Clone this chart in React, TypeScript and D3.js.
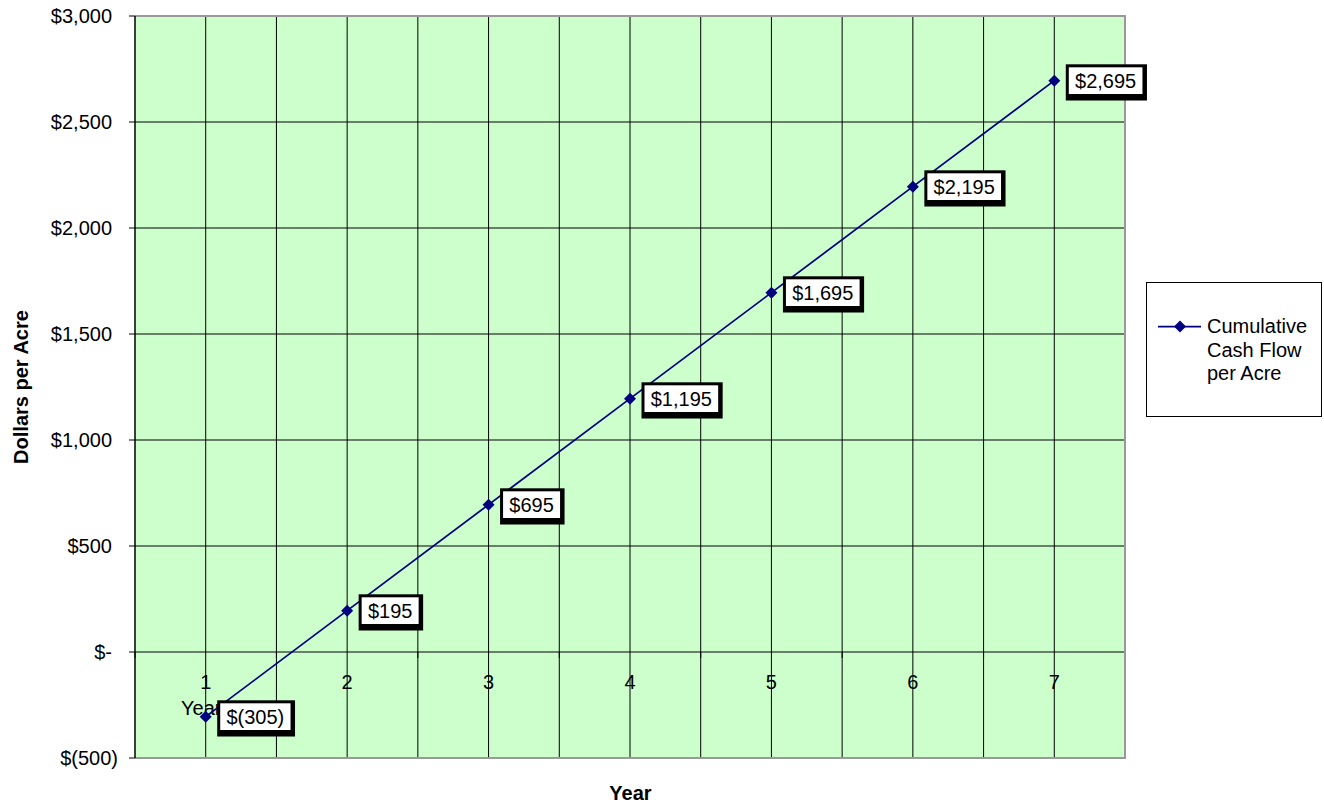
import React from "react";
import * as d3 from "d3";

const years: string[] = ["1", "2", "3", "4", "5", "6", "7"];
const cumulativeCash: number[] = [-305, 195, 695, 1195, 1695, 2195, 2695];
const yTickValues: number[] = [-500, 0, 500, 1000, 1500, 2000, 2500, 3000];
const seriesName: string[] = ["Cumulative", "Cash Flow", "per Acre"];

const W = 1324;
const H = 803;
const M = { left: 135, right: 1125, top: 16, bottom: 758 };
const FONT = "'Liberation Sans', Arial, Helvetica, sans-serif";
const NAVY = "#000080";

function fmt(v: number): string {
  if (v === 0) return "$-";
  if (v < 0) return `$(${d3.format(",")(Math.abs(v))})`;
  return `$${d3.format(",")(v)}`;
}

let ctx: CanvasRenderingContext2D | null = null;
function textW(s: string): number {
  if (!ctx) {
    const c = document.createElement("canvas");
    ctx = c.getContext("2d");
  }
  if (!ctx) return s.length * 11;
  ctx.font = `20px ${FONT}`;
  return ctx.measureText(s).width;
}

function diamond(cx: number, cy: number, r: number): string {
  return `M${cx},${cy - r}L${cx + r},${cy}L${cx},${cy + r}L${cx - r},${cy}Z`;
}

export default function App() {
  const x = d3.scaleBand<string>().domain(years).range([M.left, M.right]).padding(0);
  const y = d3.scaleLinear().domain([-500, 3000]).range([M.bottom, M.top]);
  const bw = x.bandwidth();
  const cx = (d: string) => (x(d) as number) + bw / 2;

  const line = d3
    .line<number>()
    .x((_, i) => cx(years[i]))
    .y((d) => y(d));

  const boundaries = years.slice(1).map((d) => x(d) as number);

  return (
    <svg
      width={W}
      height={H}
      style={{ position: "absolute", left: 0, top: 0, fontFamily: FONT }}
    >
      <rect x={0} y={0} width={W} height={H} fill="#ffffff" />
      <rect
        x={M.left}
        y={M.top}
        width={M.right - M.left}
        height={M.bottom - M.top}
        fill="#CCFFCC"
      />
      {yTickValues.map((v) => (
        <line key={"h" + v} x1={M.left} x2={M.right} y1={y(v)} y2={y(v)} stroke="#000" strokeWidth={1} />
      ))}
      {years.map((d) => (
        <line key={"vc" + d} x1={cx(d)} x2={cx(d)} y1={M.top} y2={M.bottom} stroke="#000" strokeWidth={1} />
      ))}
      {boundaries.map((b, i) => (
        <line key={"vb" + i} x1={b} x2={b} y1={M.top} y2={M.bottom} stroke="#000" strokeWidth={1} />
      ))}
      {[M.left, ...boundaries, M.right].map((b, i) => (
        <line key={"xt" + i} x1={b} x2={b} y1={y(0)} y2={y(0) + 6} stroke="#000" strokeWidth={1} />
      ))}
      <path
        d={`M${M.left},${M.top}H${M.right}V${M.bottom}H${M.left}`}
        fill="none"
        stroke="#999999"
        strokeWidth={2}
      />
      <line x1={M.left} x2={M.left} y1={M.top} y2={M.bottom} stroke="#000" strokeWidth={1.5} />
      {yTickValues.map((v) => (
        <g key={"yt" + v}>
          <line x1={M.left - 6} x2={M.left} y1={y(v)} y2={y(v)} stroke="#000" strokeWidth={1} />
          <text x={v < 0 ? 118 : 112} y={y(v) + 7.3} textAnchor="end" fontSize={20} fill="#000">
            {fmt(v)}
          </text>
        </g>
      ))}
      {years.map((d) => (
        <text key={"xl" + d} x={cx(d)} y={y(0) + 37} textAnchor="middle" fontSize={20} fill="#000">
          {d}
        </text>
      ))}
      <text x={181} y={715} fontSize={20} fill="#000">
        Year
      </text>
      <path d={line(cumulativeCash) || ""} fill="none" stroke={NAVY} strokeWidth={1.75} />
      {cumulativeCash.map((v, i) => (
        <path key={"m" + i} d={diamond(cx(years[i]), y(v), 6)} fill={NAVY} />
      ))}
      {cumulativeCash.map((v, i) => {
        const px = cx(years[i]);
        const py = y(v);
        const label = fmt(v);
        const tw = textW(label);
        const wx = px + 14.5;
        const ww = tw + 12.5;
        const wh = 26.7;
        const wy = py - wh / 2;
        return (
          <g key={"lab" + i}>
            <rect x={wx - 3} y={wy - 3} width={ww + 7.5} height={wh + 9.5} fill="#000" />
            <rect x={wx} y={wy} width={ww} height={wh} fill="#fff" />
            <text x={wx + 6.25} y={py + 7.3} fontSize={20} fill="#000">
              {label}
            </text>
          </g>
        );
      })}
      <text
        transform={`translate(${28},${(M.top + M.bottom) / 2}) rotate(-90)`}
        textAnchor="middle"
        fontSize={20}
        fontWeight="bold"
        fill="#000"
      >
        Dollars per Acre
      </text>
      <text x={630.5} y={800} textAnchor="middle" fontSize={20} fontWeight="bold" fill="#000">
        Year
      </text>
      <rect x={1146.5} y={282.5} width={175} height={134} fill="#fff" stroke="#000" strokeWidth={1} />
      <line x1={1158} x2={1201} y1={326.5} y2={326.5} stroke={NAVY} strokeWidth={1.75} />
      <path d={diamond(1180, 326.5, 6)} fill={NAVY} />
      {seriesName.map((s, i) => (
        <text key={"lg" + i} x={1207} y={333 + i * 23.5} fontSize={20} fill="#000">
          {s}
        </text>
      ))}
    </svg>
  );
}
